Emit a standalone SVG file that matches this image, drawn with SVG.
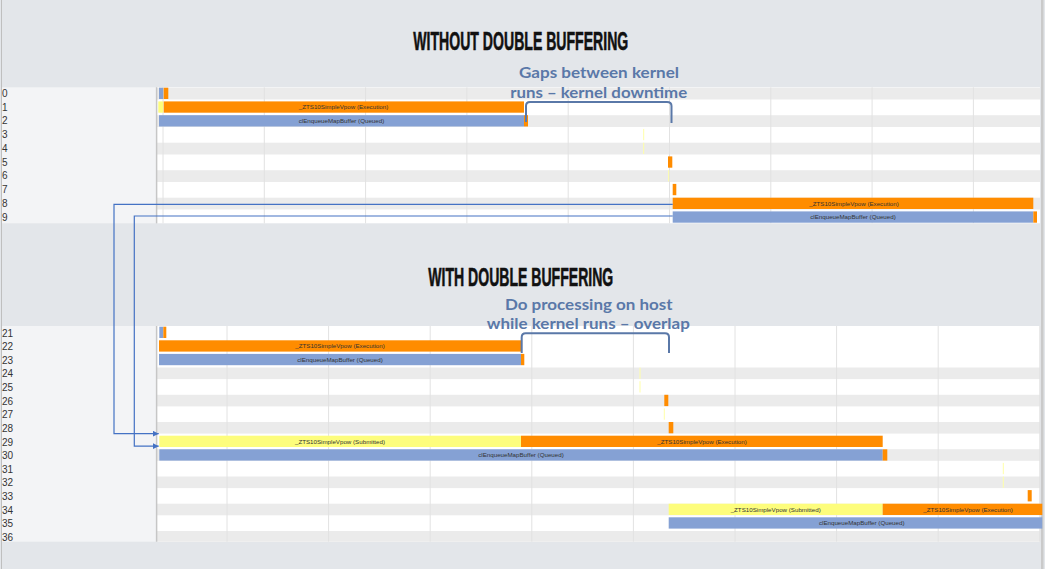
<svg xmlns="http://www.w3.org/2000/svg" width="1045" height="569" viewBox="0 0 1045 569">
<defs>
<style>
.bg{fill:#E3E6EA}
.lab{fill:#F3F4F6}
.chart{fill:#FFFFFF}
.stripe{fill:#EBEBEB}
.grid{stroke:#E2E2E2;stroke-width:1}
.axis{stroke:#C6C6C6;stroke-width:1.5}
.rn{font-family:"Liberation Sans",Arial,sans-serif;font-size:10px;fill:#333333}
.exe{fill:#FF8C00}
.que{fill:#85A1D4}
.sub{fill:#FDFD7C}
.tick{stroke:#FFFFA8;stroke-width:1}
.bl{font-family:"Liberation Sans",Arial,sans-serif;font-size:6.2px;fill:#333333;text-anchor:middle}
.title{font-family:"Liberation Sans Narrow","Liberation Sans",Arial,sans-serif;font-weight:bold;font-size:25.5px;fill:#111111;stroke:#111111;stroke-width:0.6}
.note{font-family:Lato,"Open Sans",sans-serif;font-weight:bold;font-size:16px;fill:#5A78A8;text-anchor:middle}
.brace{fill:none;stroke:#5A78A8;stroke-width:2}
.conn{fill:none;stroke:#4472C4;stroke-width:1.2}
</style>
<marker id="arr" markerUnits="userSpaceOnUse" markerWidth="6" markerHeight="6" refX="6" refY="3" orient="auto"><path d="M0,0 L6,3 L0,6z" fill="#4472C4"/></marker>
</defs>

<rect class="bg" x="0" y="0" width="1045" height="569"/>
<line x1="1.5" y1="0" x2="1.5" y2="569" stroke="#BFBFBF" stroke-width="1"/>
<rect x="1041" y="0" width="2.5" height="569" fill="#CACACA"/>

<!-- top panel -->
<g id="panel-top">
<rect class="lab" x="2" y="87.3" width="154" height="136"/>
<rect class="chart" x="157" y="87.3" width="883" height="136"/>
<rect class="stripe" x="157" y="87.7" width="883" height="11.8"/>
<rect class="stripe" x="157" y="115.2" width="883" height="11.8"/>
<rect class="stripe" x="157" y="142.7" width="883" height="11.8"/>
<rect class="stripe" x="157" y="170.2" width="883" height="11.8"/>
<rect class="stripe" x="157" y="197.7" width="883" height="11.8"/>
<g class="grid">
<line x1="163" y1="87.3" x2="163" y2="223.3"/>
<line x1="264.3" y1="87.3" x2="264.3" y2="223.3"/>
<line x1="365.6" y1="87.3" x2="365.6" y2="223.3"/>
<line x1="466.9" y1="87.3" x2="466.9" y2="223.3"/>
<line x1="568.2" y1="87.3" x2="568.2" y2="223.3"/>
<line x1="669.5" y1="87.3" x2="669.5" y2="223.3"/>
<line x1="770.8" y1="87.3" x2="770.8" y2="223.3"/>
<line x1="872.1" y1="87.3" x2="872.1" y2="223.3"/>
<line x1="973.4" y1="87.3" x2="973.4" y2="223.3"/>
</g>
<line class="axis" x1="156.6" y1="87.3" x2="156.6" y2="223.3"/>
<g class="rn">
<text x="2" y="96.7">0</text>
<text x="2" y="110.5">1</text>
<text x="2" y="124.2">2</text>
<text x="2" y="138">3</text>
<text x="2" y="151.7">4</text>
<text x="2" y="165.5">5</text>
<text x="2" y="179.2">6</text>
<text x="2" y="193">7</text>
<text x="2" y="206.7">8</text>
<text x="2" y="220.5">9</text>
</g>
</g>

<!-- bottom panel -->
<g id="panel-bottom">
<rect class="lab" x="2" y="326" width="154" height="215.7"/>
<rect class="chart" x="157" y="326" width="883" height="215.7"/>
<rect class="stripe" x="157" y="367.5" width="883" height="11.6"/>
<rect class="stripe" x="157" y="394.8" width="883" height="11.6"/>
<rect class="stripe" x="157" y="422" width="883" height="11.6"/>
<rect class="stripe" x="157" y="449.2" width="883" height="11.6"/>
<rect class="stripe" x="157" y="476.5" width="883" height="11.6"/>
<rect class="stripe" x="157" y="503.7" width="883" height="11.6"/>
<rect class="stripe" x="157" y="531" width="883" height="10.7"/>
<g class="grid">
<line x1="227" y1="326" x2="227" y2="541.7"/>
<line x1="328.6" y1="326" x2="328.6" y2="541.7"/>
<line x1="430.2" y1="326" x2="430.2" y2="541.7"/>
<line x1="531.8" y1="326" x2="531.8" y2="541.7"/>
<line x1="633.4" y1="326" x2="633.4" y2="541.7"/>
<line x1="735" y1="326" x2="735" y2="541.7"/>
<line x1="836.6" y1="326" x2="836.6" y2="541.7"/>
<line x1="938.2" y1="326" x2="938.2" y2="541.7"/>
<line x1="1039.8" y1="326" x2="1039.8" y2="541.7"/>
</g>
<line class="axis" x1="156.6" y1="326" x2="156.6" y2="541.7"/>
<g class="rn">
<text x="2" y="336.6">21</text>
<text x="2" y="350.2">22</text>
<text x="2" y="363.8">23</text>
<text x="2" y="377.4">24</text>
<text x="2" y="391">25</text>
<text x="2" y="404.7">26</text>
<text x="2" y="418.3">27</text>
<text x="2" y="431.9">28</text>
<text x="2" y="445.5">29</text>
<text x="2" y="459.1">30</text>
<text x="2" y="472.7">31</text>
<text x="2" y="486.4">32</text>
<text x="2" y="500">33</text>
<text x="2" y="513.6">34</text>
<text x="2" y="527.2">35</text>
<text x="2" y="540.8">36</text>
</g>
</g>

<!-- top bars -->
<g id="t-row0"><rect class="que" x="159" y="87.7" width="4.3" height="11.3"/><rect class="exe" x="163.7" y="87.7" width="4.6" height="11.3"/></g>
<g id="t-row1"><rect class="sub" x="158.3" y="101.4" width="4.9" height="11.3"/><rect class="exe" x="163.7" y="101.4" width="360.3" height="11.3"/><text class="bl" x="343.5" y="109.2">_ZTS10SimpleVpow (Execution)</text></g>
<g id="t-row2"><rect class="que" x="159" y="115.2" width="365" height="11.3"/><rect class="exe" x="524" y="115.2" width="4" height="11.3"/><text class="bl" x="341.5" y="123">clEnqueueMapBuffer (Queued)</text></g>
<g id="t-row3"><line class="tick" x1="643.7" y1="128.9" x2="643.7" y2="140.2"/></g>
<g id="t-row4"><line class="tick" x1="643.7" y1="142.7" x2="643.7" y2="154"/></g>
<g id="t-row5"><rect class="exe" x="668" y="156.4" width="4.3" height="11.3"/></g>
<g id="t-row6"><line class="tick" x1="668.7" y1="170.2" x2="668.7" y2="181.5"/></g>
<g id="t-row7"><rect class="exe" x="672.7" y="183.9" width="3.6" height="11.3"/></g>
<g id="t-row8"><rect class="exe" x="672.7" y="197.7" width="360.6" height="11.3"/><text class="bl" x="854" y="205.5">_ZTS10SimpleVpow (Execution)</text></g>
<g id="t-row9"><rect class="que" x="672.7" y="211.4" width="360.6" height="11.3"/><rect class="exe" x="1033.3" y="211.4" width="3.7" height="11.3"/><text class="bl" x="853" y="219.2">clEnqueueMapBuffer (Queued)</text></g>

<!-- bottom bars -->
<g id="b-row21"><rect class="que" x="159.3" y="326.7" width="4" height="11.3"/><rect class="exe" x="163.3" y="326.7" width="3" height="11.3"/></g>
<g id="b-row22"><rect class="exe" x="159" y="340.3" width="362" height="11.3"/><text class="bl" x="340" y="348.1">_ZTS10SimpleVpow (Execution)</text></g>
<g id="b-row23"><rect class="que" x="159" y="353.9" width="362" height="11.3"/><rect class="exe" x="521" y="353.9" width="3.3" height="11.3"/><text class="bl" x="340" y="361.7">clEnqueueMapBuffer (Queued)</text></g>
<g id="b-row24"><line class="tick" x1="640" y1="367.6" x2="640" y2="378.9"/></g>
<g id="b-row25"><line class="tick" x1="640" y1="381.2" x2="640" y2="392.5"/></g>
<g id="b-row26"><rect class="exe" x="664.3" y="394.8" width="4" height="11.3"/></g>
<g id="b-row27"><line class="tick" x1="664.3" y1="408.4" x2="664.3" y2="419.7"/></g>
<g id="b-row28"><rect class="exe" x="668.7" y="422" width="4.6" height="11.3"/></g>
<g id="b-row29"><rect class="sub" x="159.3" y="435.7" width="361.7" height="11.3"/><rect class="exe" x="521" y="435.7" width="361.7" height="11.3"/><text class="bl" x="340" y="443.5">_ZTS10SimpleVpow (Submitted)</text><text class="bl" x="702" y="443.5">_ZTS10SimpleVpow (Execution)</text></g>
<g id="b-row30"><rect class="que" x="159.3" y="449.3" width="723.4" height="11.3"/><rect class="exe" x="882.7" y="449.3" width="4.6" height="11.3"/><text class="bl" x="521" y="457.1">clEnqueueMapBuffer (Queued)</text></g>
<g id="b-row31"><line class="tick" x1="1003.3" y1="462.9" x2="1003.3" y2="474.2"/></g>
<g id="b-row32"><line class="tick" x1="1003.3" y1="476.5" x2="1003.3" y2="487.8"/></g>
<g id="b-row33"><rect class="exe" x="1027.7" y="490.1" width="4" height="11.3"/></g>
<g id="b-row34"><rect class="sub" x="668.7" y="503.7" width="214" height="11.3"/><rect class="exe" x="882.7" y="503.7" width="159.6" height="11.3"/><text class="bl" x="775.7" y="511.5">_ZTS10SimpleVpow (Submitted)</text><text class="bl" x="968" y="511.5">_ZTS10SimpleVpow (Execution)</text></g>
<g id="b-row35"><rect class="que" x="668.7" y="517.3" width="373.6" height="11.3"/><text class="bl" x="861.7" y="525.1">clEnqueueMapBuffer (Queued)</text></g>

<!-- titles and notes -->
<g id="title-top"><text class="title" x="413.3" y="50" textLength="215" lengthAdjust="spacingAndGlyphs">WITHOUT DOUBLE BUFFERING</text></g>
<g id="title-bottom"><text class="title" x="428.3" y="286" textLength="185" lengthAdjust="spacingAndGlyphs">WITH DOUBLE BUFFERING</text></g>
<g id="note-gaps">
<text class="note" x="599" y="78.3" textLength="160" lengthAdjust="spacingAndGlyphs">Gaps between kernel</text>
<text class="note" x="598.7" y="97.7" textLength="177" lengthAdjust="spacingAndGlyphs">runs – kernel downtime</text>
<path class="brace" d="M526,122 V106 Q526,102 530,102 H667 Q671.5,102 671.5,106 V123"/>
</g>
<g id="note-overlap">
<text class="note" x="588.8" y="310" textLength="167.7" lengthAdjust="spacingAndGlyphs">Do processing on host</text>
<text class="note" x="588.3" y="329.3" textLength="203" lengthAdjust="spacingAndGlyphs">while kernel runs – overlap</text>
<path class="brace" d="M521.7,353 V337.3 Q521.7,333.3 525.7,333.3 H665 Q669,333.3 669,337.3 V353"/>
</g>

<!-- connectors -->
<g id="connectors">
<path class="conn" d="M672.7,204.3 H114 V433.7 H158.7" marker-end="url(#arr)"/>
<path class="conn" d="M672.7,216 H134.3 V446.2 H158.7" marker-end="url(#arr)"/>
</g>
</svg>
